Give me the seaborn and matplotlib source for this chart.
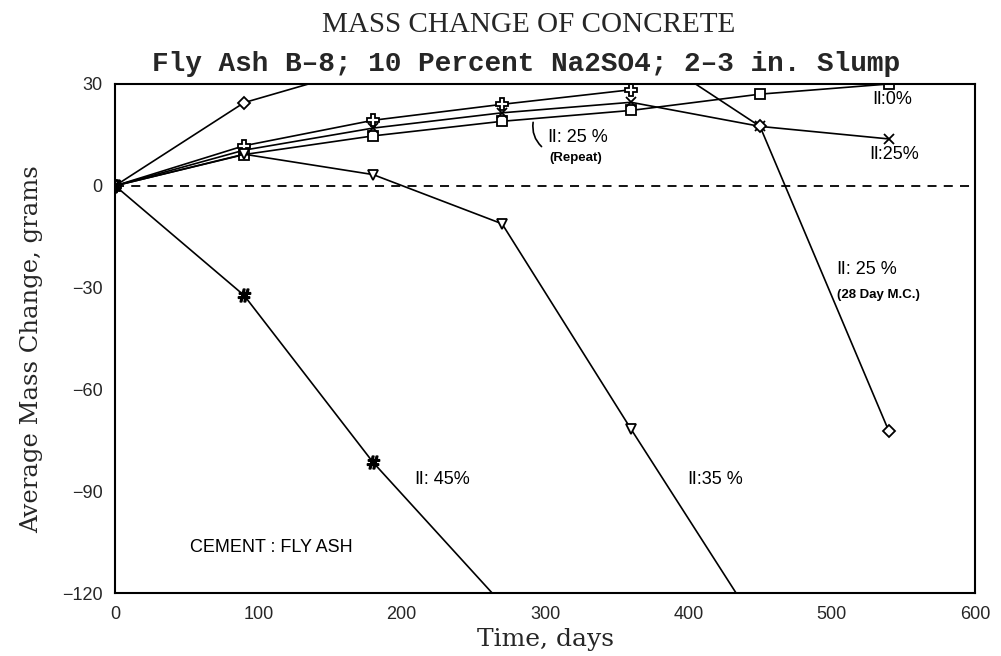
import pandas as pd
import matplotlib.pyplot as plt
plt.switch_backend('Agg')
import seaborn as sns

# Values (days, grams)
days = [0, 90, 180, 270, 360, 450, 540]
ii_0 = [0, 9.2, 14.7, 19.0, 22.2, 27.0, 30.0]
ii_25 = [0, 10.5, 17.0, 21.5, 24.6, 17.5, 13.8]
ii_25_repeat = [0, 11.8, 19.3, 24.0, 28.3]
ii_25_28day = [0, 24.5, 35.5, 39.0, 42.5, 17.5, -72.4]
ii_35 = [0, 9.3, 3.3, -11.2, -71.7, -131.0]
ii_45 = [0, -32.3, -81.5, -123.2]

x_ticks = [0, 100, 200, 300, 400, 500, 600]
y_ticks = [30, 0, -30, -60, -90, -120]

series = [
    ("II:0%", ii_0, "s", "white", 7),
    ("II:25%", ii_25, "x", "black", 7),
    ("II:25% Repeat", ii_25_repeat, "P", "white", 8),
    ("II:25% 28 Day", ii_25_28day, "D", "white", 6),
    ("II:35%", ii_35, "v", "white", 7),
    ("II:45%", ii_45, r"$\#$", "black", 9),
]

sns.set_style("white")
plt.rcParams['font.family'] = ['DejaVu Sans']

fig = plt.figure(figsize=(10.01, 6.56), dpi=100)
ax = fig.add_axes([0.115, 0.096, 0.859, 0.776])

for name, vals, mk, fc, ms in series:
    df = pd.DataFrame({"day": days[:len(vals)], "change": vals})
    sns.lineplot(data=df, x="day", y="change", ax=ax, color="black",
                 linewidth=1.2, marker=mk, markersize=ms,
                 markerfacecolor=fc, markeredgecolor="black",
                 markeredgewidth=1.3, sort=False, estimator=None)

ax.axhline(0, color="black", linestyle=(0, (5, 4)), linewidth=1.3)

ax.set_xlim(0, 600)
ax.set_ylim(-120, 30)
ax.set_xticks(x_ticks)
ax.set_yticks(y_ticks)
ax.set_xticklabels([str(t) for t in x_ticks], fontfamily="Liberation Sans", fontsize=13)
ax.set_yticklabels([str(t).replace("-", "\u2212") for t in y_ticks],
                   fontfamily="Liberation Sans", fontsize=13)
ax.tick_params(direction="out", length=5, width=1.3, color="black", pad=4)
for s in ax.spines.values():
    s.set_color("black")
    s.set_linewidth(1.5)

ax.set_xlabel("Time, days", fontfamily="DejaVu Serif", fontsize=18, labelpad=4)
ax.set_ylabel("Average Mass Change, grams", fontfamily="DejaVu Serif", fontsize=17.5)
ax.yaxis.set_label_coords(-0.084, 0.48)

fig.text(0.528, 0.962, "MASS CHANGE OF CONCRETE", ha="center", va="center",
         fontfamily="Liberation Serif", fontsize=21)
fig.text(0.526, 0.902, "Fly Ash B\u20138; 10 Percent Na2SO4; 2\u20133 in. Slump",
         ha="center", va="center", fontfamily="Liberation Mono",
         fontweight="bold", fontsize=20)

fams = ["Liberation Sans", "DejaVu Sans", "Noto Sans CJK JP"]
lab = dict(family=fams, fontsize=13, color="black")
small = dict(family=fams, fontsize=9.5, fontweight="bold", color="black")
ax.text(528, 24, "\u2161:0%", **lab)
ax.text(526, 8, "\u2161:25%", **lab)
ax.text(302, 13, "\u2161: 25 %", **lab)
ax.text(303, 7.3, "(Repeat)", **small)
ax.annotate("", xy=(292, 19.5), xytext=(299, 11),
            arrowprops=dict(arrowstyle="-", color="black", lw=1.2,
                            connectionstyle="arc3,rad=-0.3"))
ax.text(504, -26, "\u2161: 25 %", **lab)
ax.text(504, -33, "(28 Day M.C.)", **small)
ax.text(400, -88, "\u2161:35 %", **lab)
ax.text(209, -88, "\u2161: 45%", **lab)
ax.text(52, -108, "CEMENT : FLY ASH", **lab)

fig.savefig("out.png", dpi=100)
